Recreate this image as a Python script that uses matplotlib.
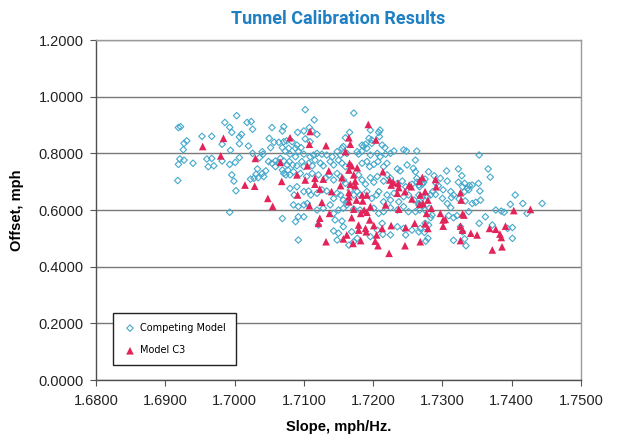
import matplotlib
matplotlib.use("Agg")
import matplotlib.pyplot as plt
from matplotlib.ticker import FormatStrFormatter

title = "Tunnel Calibration Results"
x_label = "Slope, mph/Hz."
y_label = "Offset, mph"
series_names = ["Competing Model", "Model C3"]

# Competing Model (slope, offset)
comp_x = [
    1.7003, 1.6922, 1.6919, 1.6986, 1.6993, 1.6996, 1.7018, 1.7024, 1.7026, 1.6953,
    1.6967, 1.7010, 1.7007, 1.6931, 1.6927, 1.6982, 1.7007, 1.7020, 1.7054, 1.7071,
    1.7069, 1.7050, 1.7057, 1.7064, 1.7071, 1.7075, 1.7069, 1.7052, 1.7073, 1.7078,
    1.6926, 1.6994, 1.7026, 1.7040, 1.7041, 1.7036, 1.6921, 1.6927, 1.6919, 1.6940,
    1.6960, 1.6967, 1.6962, 1.6970, 1.6982, 1.6993, 1.7001, 1.7007, 1.7049, 1.7054,
    1.7059, 1.7064, 1.7066, 1.7071, 1.7076, 1.7079, 1.7059, 1.7069, 1.7071, 1.7074,
    1.7077, 1.7033, 1.7040, 1.7045, 1.7031, 1.7034, 1.7028, 1.7023, 1.7042, 1.6996,
    1.6999, 1.6918, 1.7002, 1.7069, 1.6993,
    1.7102, 1.7172, 1.7115, 1.7091, 1.7100, 1.7108, 1.7112, 1.7119, 1.7083, 1.7090,
    1.7102, 1.7109, 1.7096, 1.7088, 1.7160, 1.7166, 1.7196, 1.7194, 1.7198, 1.7208,
    1.7210, 1.7209, 1.7184, 1.7186, 1.7189, 1.7191, 1.7198, 1.7213, 1.7217, 1.7155,
    1.7157, 1.7080, 1.7088, 1.7092, 1.7100, 1.7109, 1.7114, 1.7119, 1.7126, 1.7133,
    1.7141, 1.7148, 1.7153, 1.7162, 1.7177, 1.7179, 1.7184, 1.7196, 1.7206, 1.7210,
    1.7218, 1.7225, 1.7230, 1.7244, 1.7248, 1.7263, 1.7084, 1.7090, 1.7097, 1.7100,
    1.7107, 1.7112, 1.7116, 1.7124, 1.7128, 1.7138, 1.7143, 1.7150, 1.7155, 1.7160,
    1.7184, 1.7191, 1.7195, 1.7201, 1.7207, 1.7215, 1.7220, 1.7235, 1.7239, 1.7249,
    1.7258, 1.7261, 1.7080, 1.7085, 1.7095, 1.7104, 1.7112, 1.7121, 1.7131, 1.7137,
    1.7143, 1.7148, 1.7153, 1.7157, 1.7160, 1.7179, 1.7184, 1.7189, 1.7196, 1.7201,
    1.7206, 1.7215, 1.7220, 1.7225, 1.7235, 1.7242, 1.7247, 1.7256, 1.7263, 1.7266,
    1.7080, 1.7086, 1.7090, 1.7100, 1.7107, 1.7110, 1.7119, 1.7126, 1.7133, 1.7143,
    1.7148, 1.7153, 1.7157, 1.7162, 1.7167, 1.7172, 1.7177, 1.7181, 1.7191, 1.7198,
    1.7205, 1.7208, 1.7215, 1.7220, 1.7225, 1.7230, 1.7237, 1.7244, 1.7251, 1.7259,
    1.7266, 1.7085, 1.7092, 1.7100, 1.7105, 1.7119, 1.7128, 1.7138, 1.7143, 1.7150,
    1.7157, 1.7162, 1.7172, 1.7181, 1.7201, 1.7208, 1.7215, 1.7225, 1.7235, 1.7244,
    1.7251, 1.7261, 1.7267, 1.7088, 1.7092, 1.7100, 1.7121, 1.7145, 1.7155, 1.7157,
    1.7143, 1.7150, 1.7169, 1.7172, 1.7177, 1.7196, 1.7206, 1.7213, 1.7214, 1.7225,
    1.7235, 1.7244, 1.7247, 1.7256, 1.7266, 1.7092, 1.7148, 1.7165,
    1.7261, 1.7353, 1.7366, 1.7369, 1.7306, 1.7323, 1.7328, 1.7280, 1.7288, 1.7263,
    1.7268, 1.7273, 1.7267, 1.7271, 1.7275, 1.7291, 1.7294, 1.7307, 1.7323, 1.7332,
    1.7329, 1.7336, 1.7339, 1.7343, 1.7352, 1.7297, 1.7301, 1.7312, 1.7316, 1.7313,
    1.7332, 1.7338, 1.7354, 1.7333, 1.7343, 1.7348, 1.7355, 1.7405, 1.7416, 1.7444,
    1.7398, 1.7377, 1.7385, 1.7389, 1.7422, 1.7266, 1.7271, 1.7278, 1.7283, 1.7286,
    1.7290, 1.7266, 1.7271, 1.7275, 1.7281, 1.7300, 1.7307, 1.7312, 1.7324, 1.7285,
    1.7283, 1.7309, 1.7316, 1.7321, 1.7338, 1.7362, 1.7353, 1.7372, 1.7394, 1.7401,
    1.7401, 1.7275, 1.7280, 1.7268, 1.7274, 1.7279, 1.7276, 1.7326, 1.7329, 1.7332,
    1.7334, 1.7316,
]
comp_y = [
    0.933, 0.894, 0.891, 0.909, 0.892, 0.874, 0.909, 0.912, 0.885, 0.860,
    0.860, 0.867, 0.858, 0.844, 0.835, 0.832, 0.834, 0.826, 0.891, 0.894,
    0.879, 0.853, 0.839, 0.839, 0.841, 0.844, 0.820, 0.820, 0.808, 0.818,
    0.813, 0.811, 0.800, 0.806, 0.797, 0.785, 0.780, 0.776, 0.761, 0.765,
    0.780, 0.782, 0.753, 0.756, 0.773, 0.761, 0.768, 0.785, 0.771, 0.765,
    0.773, 0.768, 0.782, 0.773, 0.759, 0.771, 0.753, 0.741, 0.729, 0.724,
    0.741, 0.745, 0.729, 0.738, 0.726, 0.714, 0.712, 0.709, 0.718, 0.724,
    0.702, 0.704, 0.668, 0.570, 0.592,
    0.954, 0.942, 0.918, 0.874, 0.879, 0.891, 0.879, 0.867, 0.841, 0.829,
    0.851, 0.841, 0.820, 0.818, 0.855, 0.874, 0.882, 0.853, 0.847, 0.874,
    0.882, 0.859, 0.829, 0.824, 0.832, 0.818, 0.835, 0.829, 0.820, 0.818,
    0.824, 0.797, 0.788, 0.806, 0.797, 0.788, 0.794, 0.800, 0.797, 0.794,
    0.788, 0.806, 0.794, 0.800, 0.806, 0.797, 0.808, 0.794, 0.800, 0.788,
    0.797, 0.800, 0.808, 0.812, 0.808, 0.808, 0.759, 0.756, 0.771, 0.753,
    0.765, 0.756, 0.776, 0.765, 0.756, 0.771, 0.759, 0.776, 0.765, 0.753,
    0.765, 0.771, 0.753, 0.761, 0.771, 0.753, 0.765, 0.745, 0.738, 0.759,
    0.747, 0.735, 0.724, 0.735, 0.729, 0.718, 0.729, 0.724, 0.712, 0.724,
    0.706, 0.729, 0.718, 0.706, 0.694, 0.724, 0.706, 0.691, 0.714, 0.698,
    0.718, 0.702, 0.724, 0.712, 0.694, 0.702, 0.682, 0.691, 0.698, 0.688,
    0.676, 0.653, 0.682, 0.665, 0.667, 0.653, 0.659, 0.671, 0.667, 0.641,
    0.659, 0.653, 0.635, 0.629, 0.671, 0.653, 0.665, 0.653, 0.665, 0.641,
    0.653, 0.665, 0.629, 0.653, 0.635, 0.659, 0.629, 0.647, 0.653, 0.635,
    0.618, 0.618, 0.612, 0.618, 0.623, 0.600, 0.606, 0.618, 0.588, 0.600,
    0.606, 0.618, 0.603, 0.600, 0.606, 0.588, 0.594, 0.608, 0.600, 0.612,
    0.594, 0.594, 0.600, 0.559, 0.576, 0.576, 0.547, 0.565, 0.561, 0.541,
    0.526, 0.518, 0.523, 0.488, 0.500, 0.506, 0.529, 0.553, 0.514, 0.512,
    0.541, 0.535, 0.512, 0.529, 0.523, 0.494, 0.494, 0.476,
    0.776, 0.794, 0.745, 0.716, 0.738, 0.745, 0.721, 0.735, 0.721, 0.712,
    0.702, 0.698, 0.682, 0.691, 0.709, 0.694, 0.686, 0.702, 0.698, 0.694,
    0.682, 0.676, 0.686, 0.688, 0.694, 0.712, 0.671, 0.665, 0.653, 0.644,
    0.665, 0.671, 0.667, 0.632, 0.623, 0.627, 0.635, 0.653, 0.623, 0.623,
    0.620, 0.600, 0.596, 0.592, 0.588, 0.653, 0.644, 0.647, 0.653, 0.665,
    0.655, 0.623, 0.618, 0.600, 0.606, 0.641, 0.623, 0.608, 0.639, 0.582,
    0.573, 0.580, 0.573, 0.580, 0.594, 0.576, 0.553, 0.547, 0.535, 0.538,
    0.500, 0.553, 0.547, 0.535, 0.521, 0.500, 0.490, 0.541, 0.523, 0.498,
    0.474, 0.493,
]

# Model C3 (slope, offset)
c3_x = [
    1.6984, 1.6954, 1.6980, 1.7030, 1.7066, 1.7015, 1.7029, 1.7068, 1.7048, 1.7055,
    1.7080, 1.7109, 1.7193, 1.7204, 1.7165, 1.7167, 1.7108, 1.7132, 1.7160, 1.7166,
    1.7169, 1.7177, 1.7165, 1.7172, 1.7105, 1.7090, 1.7102, 1.7116, 1.7128, 1.7136,
    1.7155, 1.7153, 1.7167, 1.7174, 1.7174, 1.7091, 1.7123, 1.7116, 1.7140, 1.7165,
    1.7165, 1.7184, 1.7191, 1.7176, 1.7165, 1.7185, 1.7126, 1.7108, 1.7214, 1.7224,
    1.7226, 1.7229, 1.7236, 1.7237, 1.7235, 1.7246, 1.7252, 1.7255, 1.7267, 1.7256,
    1.7268, 1.7267, 1.7196, 1.7218, 1.7237, 1.7172, 1.7169, 1.7182, 1.7187, 1.7191,
    1.7137, 1.7123, 1.7121, 1.7195, 1.7179, 1.7179, 1.7189, 1.7190, 1.7201, 1.7205,
    1.7213, 1.7226, 1.7247, 1.7260, 1.7203, 1.7182, 1.7171, 1.7157, 1.7162, 1.7132,
    1.7207, 1.7246, 1.7223,
    1.7271, 1.7290, 1.7291, 1.7275, 1.7279, 1.7272, 1.7284, 1.7277, 1.7297, 1.7301,
    1.7304, 1.7275, 1.7301, 1.7279, 1.7326, 1.7327, 1.7329, 1.7331, 1.7326, 1.7329,
    1.7403, 1.7427, 1.7341, 1.7350, 1.7368, 1.7377, 1.7391, 1.7383, 1.7385, 1.7386,
    1.7372, 1.7326, 1.7268,
]
c3_y = [
    0.853, 0.824, 0.791, 0.782, 0.768, 0.688, 0.684, 0.701, 0.641, 0.613,
    0.855, 0.877, 0.902, 0.847, 0.855, 0.832, 0.832, 0.827, 0.806, 0.765,
    0.756, 0.749, 0.741, 0.724, 0.756, 0.724, 0.706, 0.712, 0.709, 0.738,
    0.714, 0.686, 0.691, 0.702, 0.686, 0.653, 0.674, 0.691, 0.665, 0.662,
    0.647, 0.653, 0.653, 0.635, 0.629, 0.632, 0.627, 0.615, 0.735, 0.706,
    0.688, 0.698, 0.694, 0.679, 0.659, 0.665, 0.688, 0.682, 0.702, 0.639,
    0.653, 0.620, 0.612, 0.618, 0.603, 0.603, 0.573, 0.588, 0.600, 0.592,
    0.588, 0.571, 0.553, 0.565, 0.547, 0.529, 0.535, 0.523, 0.545, 0.512,
    0.535, 0.545, 0.538, 0.553, 0.490, 0.492, 0.482, 0.498, 0.512, 0.488,
    0.474, 0.474, 0.447,
    0.715, 0.708, 0.682, 0.665, 0.635, 0.623, 0.606, 0.588, 0.588, 0.565,
    0.567, 0.551, 0.543, 0.535, 0.661, 0.635, 0.586, 0.582, 0.543, 0.529,
    0.598, 0.602, 0.518, 0.512, 0.535, 0.532, 0.543, 0.515, 0.503, 0.470,
    0.459, 0.492, 0.488,
]

x_ticks = [1.68, 1.69, 1.70, 1.71, 1.72, 1.73, 1.74, 1.75]
y_ticks = [0.0, 0.2, 0.4, 0.6, 0.8, 1.0, 1.2]

W, H = 619, 436
fig = plt.figure(figsize=(W / 100, H / 100), dpi=100)
fig.patch.set_facecolor("white")
ax = fig.add_axes([96 / W, 1 - 380 / H, 485 / W, 340 / H])

ax.scatter(comp_x, comp_y, marker="D", s=11, facecolors="none",
           edgecolors="#45a9cc", linewidths=0.8, label=series_names[0], zorder=3)
ax.scatter(c3_x, c3_y, marker="^", s=30, color="#e2245a", edgecolors="none",
           label=series_names[1], zorder=4)

ax.set_xlim(1.68, 1.75)
ax.set_ylim(0.0, 1.2)
ax.set_xticks(x_ticks)
ax.set_yticks(y_ticks)
ax.xaxis.set_major_formatter(FormatStrFormatter("%.4f"))
ax.yaxis.set_major_formatter(FormatStrFormatter("%.4f"))

for lab in ax.get_xticklabels() + ax.get_yticklabels():
    lab.set_fontfamily("Liberation Sans")
    lab.set_fontsize(10.5)
    lab.set_color("#222222")
ax.tick_params(axis="both", direction="out", length=4, width=0.8, color="#555555")
ax.tick_params(axis="y", pad=5)
ax.tick_params(axis="x", pad=6)

ax.grid(axis="y", color="#7a7a7a", linewidth=1.0, zorder=0)
ax.set_axisbelow(True)
for side in ["top", "right"]:
    ax.spines[side].set_color("#9a9a9a")
    ax.spines[side].set_linewidth(1.0)
for side in ["left", "bottom"]:
    ax.spines[side].set_color("#505050")
    ax.spines[side].set_linewidth(1.0)

ax.set_xlabel(x_label, fontfamily="Liberation Sans", fontweight="bold", fontsize=10.5, labelpad=9)
ax.set_ylabel(y_label, fontfamily="Liberation Sans", fontweight="bold", fontsize=10.5, labelpad=10)

fig.text((96 + 581) / 2 / W, 1 - 19 / H, title, ha="center", va="center",
         fontfamily="Roboto", fontweight="bold", fontsize=13, color="#1e7fc3")

leg = ax.legend(loc="lower left", bbox_to_anchor=(0.035, 0.044), frameon=True,
                fancybox=False, framealpha=1.0, edgecolor="#222222",
                prop=dict(family="DejaVu Sans", size=7.0), borderpad=1.0,
                labelspacing=1.3, handletextpad=0.3, handlelength=1.5,
                borderaxespad=0)
leg.get_frame().set_linewidth(1.0)

fig.savefig("out.png", dpi=100, facecolor="white")
